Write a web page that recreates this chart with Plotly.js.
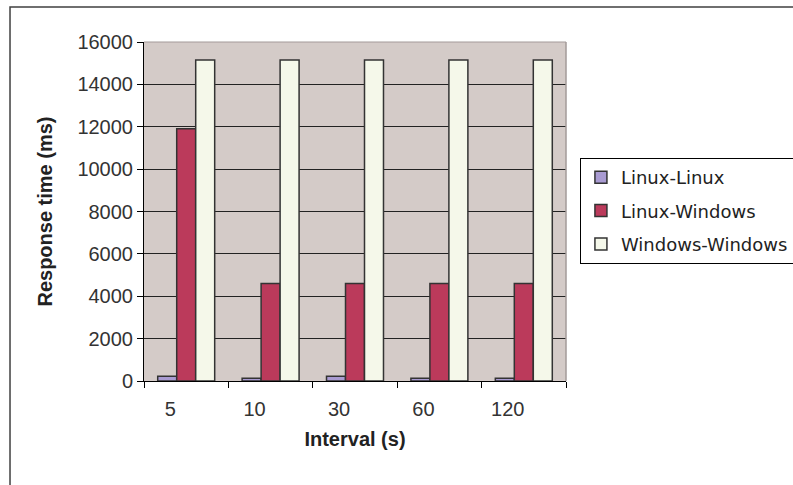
<!DOCTYPE html>
<html>
<head>
<meta charset="utf-8">
<script src="https://cdn.plot.ly/plotly-3.0.1.min.js"></script>
<style>html,body{margin:0;padding:0;background:#fff;}#chart{width:793px;height:485px;}</style>
</head>
<body>
<div id="chart"></div>
<script>
const categories = ["5", "10", "30", "60", "120"];
const seriesNames = ["Linux-Linux", "Linux-Windows", "Windows-Windows"];
const linuxLinux = [220, 130, 220, 130, 130];
const linuxWindows = [11900, 4600, 4600, 4600, 4600];
const windowsWindows = [15150, 15150, 15150, 15150, 15150];
const yTicks = [0, 2000, 4000, 6000, 8000, 10000, 12000, 14000, 16000];

const colors = ["#a99bd2", "#bb3a5b", "#f5f8ea"];
const values = [linuxLinux, linuxWindows, windowsWindows];

const traces = values.map((v, i) => ({
  type: "bar",
  x: categories,
  y: v,
  name: seriesNames[i],
  legendgroup: "g" + i,
  marker: {color: colors[i], line: {color: "#333333", width: 1.5}},
  hoverinfo: "x+y+name"
}));

const layout = {
  width: 793, height: 485,
  margin: {l: 144, r: 227, t: 42, b: 104, autoexpand: false},
  paper_bgcolor: "#ffffff",
  plot_bgcolor: "#d4cbc8",
  barmode: "group",
  bargap: 0.325,
  bargroupgap: 0,
  showlegend: true,
  font: {family: "Liberation Sans, Arial, sans-serif", color: "#222222"},
  xaxis: {
    type: "category",
    tickson: "boundaries",
    ticks: "outside", ticklen: 6, tickcolor: "#000", tickwidth: 1,
    ticklabelshift: -16,
    ticklabelstandoff: 10,
    tickfont: {size: 20, family: "Liberation Sans, Arial, sans-serif", color: "#333"},
    showline: true, linecolor: "#000", linewidth: 1,
    showgrid: false, zeroline: false,
    title: {text: "Interval (s)", font: {size: 20, family: "Liberation Sans, Arial, sans-serif", color: "#222", weight: "bold"}, standoff: 12}
  },
  yaxis: {
    range: [0, 16000],
    tickvals: yTicks,
    ticktext: yTicks.map(String),
    ticks: "outside", ticklen: 6, tickcolor: "#000", tickwidth: 1,
    tickfont: {size: 20, family: "Liberation Sans, Arial, sans-serif", color: "#333"},
    showline: true, linecolor: "#000", linewidth: 1,
    showgrid: true, gridcolor: "#222222", gridwidth: 1.2,
    zeroline: false,
    title: {text: "Response time (ms)", font: {size: 20, family: "Liberation Sans, Arial, sans-serif", color: "#222", weight: "bold"}, standoff: 19}
  },
  legend: {
    x: 1.033, xanchor: "left",
    y: 0.658, yanchor: "top",
    bgcolor: "#ffffff",
    bordercolor: "#000000", borderwidth: 1,
    traceorder: "grouped",
    tracegroupgap: 7,
    itemwidth: 30,
    font: {size: 18, family: "DejaVu Sans, Verdana, sans-serif", color: "#222"}
  },
  shapes: [
    {type: "rect", xref: "paper", yref: "paper", x0: 1, x1: 1, y0: 0, y1: 1, line: {color: "#a39a99", width: 1}},
    {type: "line", xref: "paper", yref: "paper", x0: 0, x1: 1, y0: 1, y1: 1, line: {color: "#a39a99", width: 1}},
    {type: "rect", xref: "paper", yref: "paper", x0: -0.3175, x1: 1.62, y0: -0.36, y1: 1.1032, line: {color: "#404040", width: 1.5}, layer: "below"}
  ]
};

Plotly.newPlot("chart", traces, layout, {displayModeBar: false, staticPlot: true});
</script>
</body>
</html>
